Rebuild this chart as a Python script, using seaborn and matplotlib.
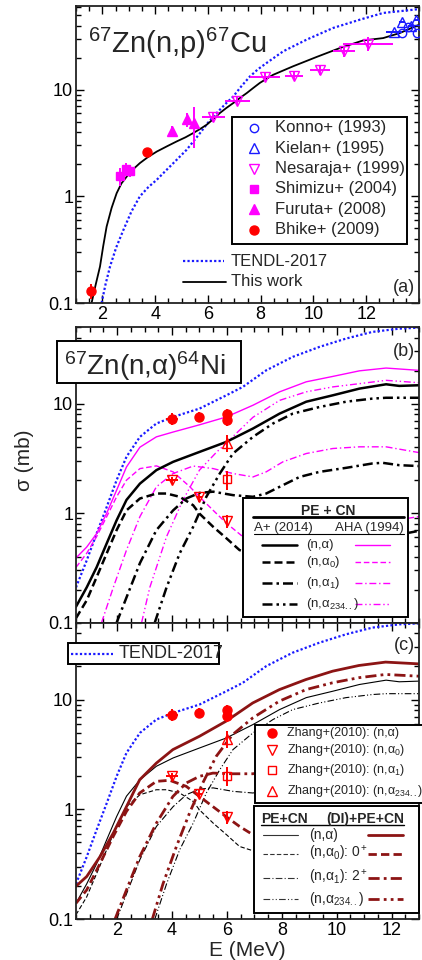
import numpy as np
import pandas as pd
import matplotlib
matplotlib.use('Agg')
import matplotlib.pyplot as plt
import seaborn as sns
from matplotlib.lines import Line2D
from matplotlib.patches import Rectangle
from matplotlib.ticker import MultipleLocator, LogLocator, NullFormatter, FixedLocator, FixedFormatter

sns.set_style('ticks')
plt.rcParams['font.family'] = ['Liberation Sans', 'DejaVu Sans']
plt.rcParams['mathtext.fontset'] = 'custom'
plt.rcParams['mathtext.rm'] = 'Liberation Sans'
plt.rcParams['mathtext.it'] = 'Liberation Sans:italic'
plt.rcParams['mathtext.bf'] = 'Liberation Sans:bold'
plt.rcParams['mathtext.sf'] = 'Liberation Sans'

# ---------------- data: panel (a) 67Zn(n,p)67Cu ----------------
E_a_this = [1.59, 1.75, 1.91, 2.03, 2.16, 2.35, 2.54, 2.72, 2.92, 3.15, 3.42, 3.72, 4.06, 4.45, 4.81, 5.15, 5.44, 5.70, 5.95, 6.20, 6.45, 6.70, 6.96, 7.22, 7.47, 7.72, 7.97, 8.47, 9.23, 10.12, 11.0, 11.88, 12.64, 13.27, 14.0]
s_a_this = [0.1, 0.15, 0.22, 0.34, 0.52, 0.78, 1.07, 1.32, 1.53, 1.78, 2.05, 2.33, 2.63, 2.95, 3.27, 3.58, 3.92, 4.28, 4.69, 5.3, 6.04, 6.75, 7.5, 8.4, 9.3, 10.4, 11.6, 13.8, 16.6, 20.3, 24.6, 29.0, 30.5, 34.0, 40.7]
E_a_tendl = [1.97, 2.12, 2.29, 2.52, 2.79, 3.1, 3.42, 3.74, 4.06, 4.38, 4.69, 5.19, 5.70, 6.0, 6.33, 6.65, 6.96, 7.27, 7.59, 7.9, 8.22, 8.85, 9.74, 10.75, 11.76, 12.64, 14.0]
s_a_tendl = [0.1, 0.15, 0.22, 0.33, 0.48, 0.72, 1.0, 1.22, 1.43, 1.72, 2.05, 2.73, 3.92, 4.9, 6.04, 7.3, 8.65, 10.8, 13.3, 15.6, 17.8, 22.9, 29.5, 38.0, 45.4, 52.5, 57.0]

konno_E = [13.34, 13.6, 13.93]
konno_s = [34.0, 38.5, 34.0]
kielan_E = [13.05, 13.36, 13.68, 13.9]
kielan_s = [34.8, 42.8, 39.3, 44.7]
kielan_xerr = [0.3, 0.1, 0.1, 0.1]
nes_E = [6.2, 7.11, 8.16, 9.26, 10.24, 11.15, 12.07]
nes_s = [5.5, 7.9, 13.2, 13.5, 15.4, 22.9, 27.0]
nes_xerr = [0.43, 0.48, 0.57, 0.33, 0.37, 0.41, 0.95]
nes_yerr = [0.5, 0.7, 1.1, 1.2, 1.6, 2.6, 4.0]
shim_E = [2.67, 2.88, 3.05]
shim_s = [1.55, 1.8, 1.72]
shim_yerr = [0.3, 0.25, 0.2]
fur_E = [4.62, 5.22, 5.47]
fur_s = [4.07, 5.3, 4.86]
fur_yerr = [0.5, 0.8, 2.0]
bhike_E = [1.56, 3.68]
bhike_s = [0.13, 2.6]
bhike_yerr = [0.02, 0.2]

# ---------------- data: panels (b),(c) 67Zn(n,alpha)64Ni ----------------
E_tendl = [0.5, 0.89, 1.25, 1.62, 1.98, 2.34, 2.83, 3.43, 4.04, 5.0, 5.98, 6.58, 7.43, 8.4, 9.37, 10.34, 11.3, 12.28, 13.0]
s_tendl = [0.21, 0.37, 0.65, 1.14, 2.0, 3.27, 4.97, 6.58, 7.55, 9.0, 11.9, 14.2, 20.1, 26.7, 32.9, 39.2, 45.1, 48.3, 49.3]

E_ap = [0.5, 0.89, 1.25, 1.62, 1.98, 2.34, 2.83, 3.43, 4.04, 5.0, 5.98, 6.95, 7.92, 8.89, 9.86, 10.83, 11.8, 12.28, 13.0]
s_ap_tot = [0.14, 0.21, 0.32, 0.53, 0.86, 1.32, 1.86, 2.47, 2.94, 3.62, 4.47, 5.92, 8.1, 10.4, 11.9, 13.7, 15.0, 14.5, 14.7]
E_ap_a0 = [0.5, 0.89, 1.25, 1.62, 1.98, 2.34, 2.83, 3.43, 3.80, 4.28, 4.77, 5.0, 5.5, 5.98, 6.46, 7.5, 9.0, 11.0, 13.0]
s_ap_a0 = [0.11, 0.16, 0.26, 0.43, 0.70, 1.06, 1.36, 1.51, 1.51, 1.41, 1.18, 0.99, 0.75, 0.59, 0.46, 0.38, 0.42, 0.55, 0.69]
E_ap_a1 = [1.98, 2.34, 2.83, 3.43, 4.04, 4.52, 5.0, 5.5, 6.22, 6.95, 7.43, 8.04, 8.65, 9.37, 10.34, 11.3, 11.67, 12.28, 13.0]
s_ap_a1 = [0.1, 0.17, 0.35, 0.70, 1.06, 1.36, 1.53, 1.57, 1.46, 1.41, 1.51, 1.80, 2.14, 2.38, 2.59, 2.84, 2.88, 2.74, 2.69]
E_ap_a234 = [3.37, 3.80, 4.28, 4.77, 5.25, 5.74, 6.22, 6.95, 7.68, 8.4, 9.37, 10.34, 11.3, 11.8, 13.0]
s_ap_a234 = [0.1, 0.21, 0.43, 0.75, 1.41, 2.30, 3.5, 4.97, 6.58, 8.1, 9.3, 10.4, 11.1, 11.3, 11.3]

E_aha = [0.5, 0.89, 1.25, 1.62, 1.98, 2.34, 2.83, 3.43, 4.04, 5.0, 5.98, 6.95, 7.92, 8.89, 9.86, 10.83, 11.8, 13.0]
s_aha_tot = [0.39, 0.49, 0.65, 1.0, 1.62, 2.64, 4.0, 4.97, 5.5, 6.4, 7.55, 9.66, 12.8, 15.8, 17.7, 19.9, 21.1, 20.1]
E_aha_a0 = [0.5, 0.89, 1.25, 1.62, 1.98, 2.34, 2.83, 3.43, 4.04, 4.65, 5.0, 5.5, 5.98, 6.58, 8.0, 10.0, 12.0, 13.0]
s_aha_a0 = [0.32, 0.43, 0.61, 0.93, 1.41, 2.0, 2.55, 2.7, 2.38, 1.74, 1.41, 1.06, 0.81, 0.61, 0.55, 0.70, 0.85, 0.93]
E_aha_a1 = [1.43, 1.86, 2.34, 2.83, 3.43, 4.04, 4.77, 5.5, 6.22, 6.95, 7.43, 8.04, 8.89, 9.86, 10.83, 11.8, 13.0]
s_aha_a1 = [0.1, 0.21, 0.46, 0.93, 1.74, 2.30, 2.69, 2.55, 2.3, 2.14, 2.38, 2.94, 3.5, 3.89, 4.03, 4.03, 3.57]
E_aha_a234 = [2.89, 3.19, 3.80, 4.40, 5.0, 5.62, 6.0, 6.22, 6.95, 7.92, 8.89, 9.86, 10.83, 11.8, 13.0]
s_aha_a234 = [0.1, 0.21, 0.61, 1.32, 2.47, 3.6, 4.4, 5.0, 7.5, 10.7, 12.8, 14.2, 15.2, 16.3, 15.5]

E_di = [0.5, 0.89, 1.37, 1.86, 2.34, 2.82, 3.43, 4.03, 5.0, 5.97, 6.94, 7.91, 8.88, 9.85, 10.81, 11.78, 13.0]
s_di_tot = [0.2, 0.245, 0.37, 0.61, 1.06, 1.86, 2.64, 3.5, 4.63, 6.35, 9.3, 12.3, 15.2, 18.1, 20.4, 21.9, 21.1]
E_di_a0 = [0.5, 0.89, 1.37, 1.86, 2.34, 2.82, 3.43, 3.91, 4.52, 5.0, 5.49, 5.97, 6.46, 6.94, 8.0, 10.0, 12.0, 13.0]
s_di_a0 = [0.14, 0.185, 0.32, 0.57, 0.96, 1.41, 1.80, 1.84, 1.62, 1.31, 1.06, 0.86, 0.70, 0.59, 0.52, 0.62, 0.85, 0.98]
E_di_a1 = [1.92, 2.34, 2.82, 3.43, 4.03, 4.52, 5.0, 5.49, 6.21, 6.94, 8.0, 10.0, 12.0, 13.0]
s_di_a1 = [0.1, 0.185, 0.37, 0.75, 1.31, 1.74, 2.0, 2.14, 2.11, 2.11, 2.3, 2.8, 3.2, 3.1]
E_di_a234 = [3.28, 3.67, 4.16, 4.64, 5.12, 5.61, 6.21, 6.94, 7.91, 8.88, 9.85, 10.81, 11.78, 13.0]
s_di_a234 = [0.1, 0.21, 0.46, 0.93, 1.74, 3.04, 4.8, 6.8, 9.66, 12.3, 14.2, 15.8, 16.9, 16.3]

zh_tot_E = [4.0, 5.0, 6.0, 6.0]
zh_tot_s = [7.3, 7.55, 8.1, 7.1]
zh_tot_xerr = [0.23, 0.15, 0.05, 0.05]
zh_tot_yerr = [0.9, 0.8, 0.9, 0.9]
zh_a0_E = [4.0, 5.0, 6.0]
zh_a0_s = [2.0, 1.39, 0.85]
zh_a0_xerr = [0.23, 0.1, 0.05]
zh_a0_yerr = [0.15, 0.12, 0.12]
zh_a1_E = [6.0]
zh_a1_s = [2.03]
zh_a1_yerr = [0.4]
zh_a234_E = [6.0]
zh_a234_s = [4.4]
zh_a234_yerr = [0.8]

# ---------------- figure ----------------
W, H = 422, 960
fig = plt.figure(figsize=(W / 100, H / 100), dpi=100)

def axes_px(x0, y0, x1, y1):
    return fig.add_axes([x0 / W, 1 - y1 / H, (x1 - x0) / W, (y1 - y0) / H])

axA = axes_px(76, 6, 419, 303)
axB = axes_px(76, 327, 419, 622.7)
axC = axes_px(76, 622.7, 419, 919.3)

BLUE = '#1a1aff'
MAG = '#ff00ff'
RED = '#ff0000'
DRED = '#8c1414'

DOT = (0, (1, 1))
DASH = (0, (3.2, 1.6))
DASHD = (0, (4, 1.6, 1, 1.6))
DASHDD = (0, (4, 1.6, 1, 1.6, 1, 1.6))
MDASH = (0, (4, 2))
MDASHD = (0, (5, 2, 1, 2))
MDASHDD = (0, (5, 2, 1, 2, 1, 2))


def curve(ax, E, s, color, lw, ls='-'):
    sns.lineplot(x=E, y=s, ax=ax, color=color, lw=lw, linestyle=ls,
                 estimator=None, errorbar=None, sort=False, legend=False)


def pts(ax, E, s, marker, color, filled, ms, xerr=None, yerr=None, mew=1.0):
    ax.errorbar(E, s, xerr=xerr, yerr=yerr, fmt='none', ecolor=color, elinewidth=1.4, capsize=0, zorder=4)
    ax.plot(E, s, linestyle='none', marker=marker, ms=ms, mew=mew,
            mfc=color if filled else 'none', mec=color, zorder=5)

# panel (a)
curve(axA, E_a_tendl, s_a_tendl, BLUE, 1.6, DOT)
curve(axA, E_a_this, s_a_this, 'black', 1.3)
pts(axA, nes_E, nes_s, 'v', MAG, False, 7, xerr=nes_xerr, yerr=nes_yerr)
pts(axA, konno_E, konno_s, 'o', BLUE, False, 6)
pts(axA, kielan_E, kielan_s, '^', BLUE, False, 7, xerr=kielan_xerr)
pts(axA, shim_E, shim_s, 's', MAG, True, 5.5, yerr=shim_yerr)
pts(axA, fur_E, fur_s, '^', MAG, True, 6.5, yerr=fur_yerr)
pts(axA, bhike_E, bhike_s, 'o', RED, True, 6.5, yerr=bhike_yerr)

# panel (b)
curve(axB, E_tendl, s_tendl, BLUE, 1.6, DOT)
curve(axB, E_aha, s_aha_tot, MAG, 1.0)
curve(axB, E_aha_a0, s_aha_a0, MAG, 1.0, MDASH)
curve(axB, E_aha_a1, s_aha_a1, MAG, 1.0, MDASHD)
curve(axB, E_aha_a234, s_aha_a234, MAG, 1.0, MDASHDD)
curve(axB, E_ap, s_ap_tot, 'black', 1.8)
curve(axB, E_ap_a0, s_ap_a0, 'black', 1.8, DASH)
curve(axB, E_ap_a1, s_ap_a1, 'black', 1.8, DASHD)
curve(axB, E_ap_a234, s_ap_a234, 'black', 1.8, DASHDD)

# panel (c)
curve(axC, E_tendl, s_tendl, BLUE, 1.6, DOT)
curve(axC, E_ap, s_ap_tot, 'black', 0.8)
curve(axC, E_ap_a0, s_ap_a0, 'black', 0.8, (0, (4, 2)))
curve(axC, E_ap_a1, s_ap_a1, 'black', 0.8, (0, (6, 2, 1, 2)))
curve(axC, E_ap_a234, s_ap_a234, 'black', 0.8, (0, (6, 2, 1, 2, 1, 2)))
curve(axC, E_di, s_di_tot, DRED, 2.0)
curve(axC, E_di_a0, s_di_a0, DRED, 2.0, (0, (3, 1.5)))
curve(axC, E_di_a1, s_di_a1, DRED, 2.0, (0, (4, 1.5, 1, 1.5)))
curve(axC, E_di_a234, s_di_a234, DRED, 2.0, (0, (4, 1.5, 1, 1.5, 1, 1.5)))

for ax in (axB, axC):
    pts(ax, zh_tot_E, zh_tot_s, 'o', RED, True, 6.5, xerr=zh_tot_xerr, yerr=zh_tot_yerr)
    pts(ax, zh_a0_E, zh_a0_s, 'v', RED, False, 7, xerr=zh_a0_xerr, yerr=zh_a0_yerr)
    pts(ax, zh_a1_E, zh_a1_s, 's', RED, False, 6, yerr=zh_a1_yerr)
    pts(ax, zh_a234_E, zh_a234_s, '^', RED, False, 7, yerr=zh_a234_yerr)

# axes styling
for ax, xlo, xhi, ytop, labels in ((axA, 1, 14, 61, True), (axB, 0.5, 13, 50, False), (axC, 0.5, 13, 50, True)):
    ax.set_yscale('log')
    ax.set_xlim(xlo, xhi)
    ax.set_ylim(0.1, ytop)
    ax.xaxis.set_major_locator(FixedLocator([2, 4, 6, 8, 10, 12]))
    ax.xaxis.set_minor_locator(MultipleLocator(0.5))
    ax.yaxis.set_major_locator(FixedLocator([0.1, 1, 10]))
    ax.yaxis.set_major_formatter(FixedFormatter(['0.1', '1', '10']))
    ax.yaxis.set_minor_locator(LogLocator(base=10, subs=np.arange(2, 10), numticks=20))
    ax.yaxis.set_minor_formatter(NullFormatter())
    ax.tick_params(which='both', direction='in', top=True, right=True, width=1.0, labelsize=13, colors='black')
    ax.tick_params(which='major', length=6, pad=2)
    ax.tick_params(which='minor', length=3.5)
    if not labels:
        ax.set_xticklabels([])
    for sp in ax.spines.values():
        sp.set_linewidth(1.3)
        sp.set_color('#222222')
    ax.set_xlabel('')
    ax.set_ylabel('')

# ---------------- annotation helpers in pixel coords ----------------
def fx(x):
    return x / W


def fy(y):
    return 1 - y / H


def box(x0, y0, x1, y1, lw=1.4):
    fig.add_artist(Rectangle((fx(x0), fy(y1)), (x1 - x0) / W, (y1 - y0) / H, transform=fig.transFigure,
                             fc='white', ec='black', lw=lw, zorder=10))


def hline(x0, x1, y, color, lw, ls='-'):
    fig.add_artist(Line2D([fx(x0), fx(x1)], [fy(y), fy(y)], transform=fig.transFigure, color=color,
                          lw=lw, linestyle=ls, zorder=11))


def mark(x, y, marker, color, filled, ms):
    fig.add_artist(Line2D([fx(x)], [fy(y)], transform=fig.transFigure, linestyle='none', marker=marker,
                          ms=ms, mfc=color if filled else 'none', mec=color, mew=1.0, zorder=11))


def txt(x, y, s, size, ha='left', va='center', weight='normal', **kw):
    fig.text(fx(x), fy(y), s, fontsize=size, ha=ha, va=va, fontweight=weight, zorder=12, **kw)

# panel (a) annotations
txt(88, 53, r'$^{67}$Zn(n,p)$^{67}$Cu', 21, va='baseline')
box(232, 117, 407, 244)
leg_a = [('o', BLUE, False, 6, 'Konno+ (1993)'), ('^', BLUE, False, 7, 'Kielan+ (1995)'),
         ('v', MAG, False, 7, 'Nesaraja+ (1999)'), ('s', MAG, True, 5.5, 'Shimizu+ (2004)'),
         ('^', MAG, True, 6.5, 'Furuta+ (2008)'), ('o', RED, True, 6.5, 'Bhike+ (2009)')]
for i, (m, c, f, ms, lab) in enumerate(leg_a):
    y = 127.7 + i * 20.4
    mark(254, y, m, c, f, ms)
    txt(275, y, lab, 12)
hline(183, 224, 261, BLUE, 1.6, DOT)
txt(231, 261, 'TENDL-2017', 12)
hline(183, 226, 282, 'black', 1.3)
txt(231, 282, 'This work', 12)
txt(404, 287, '(a)', 13, ha='center')

# panel (b) annotations
box(57, 341, 241, 383)
txt(64, 375, r'$^{67}$Zn(n,α)$^{64}$Ni', 20, va='baseline')
txt(404, 352, '(b)', 13, ha='center')
box(243, 498, 408, 617)
txt(328, 511, 'PE + CN', 10, ha='center', weight='bold')
hline(253, 404, 517, 'black', 2.0)
txt(254, 528, 'A+ (2014)', 9.5)
txt(404, 528, 'AHA (1994)', 9.5, ha='right')
hline(254, 404, 534, 'black', 0.8)
rows_b = [('-', MDASH, '(n,α)'), (DASH, MDASH, r'(n,α$_0$)'),
          (DASHD, MDASHD, r'(n,α$_1$)'), (DASHDD, MDASHDD, r'(n,α$_{234..}$)')]
for i, (lsk, lsm, lab) in enumerate(rows_b):
    y = [545, 562, 583, 603.5][i]
    hline(262, 297, y, 'black', 1.8, lsk)
    hline(355, 390, y, MAG, 1.0, '-' if i == 0 else lsm)
    txt(306, y, lab, 9.5)

# panel (c) annotations
box(68, 643, 219, 664)
hline(71, 113, 654, BLUE, 1.6, DOT)
txt(119, 654, 'TENDL-2017', 13)
txt(404, 645, '(c)', 13, ha='center')
box(255, 725, 423, 803)
leg_c = [('o', True, 6.5, 'Zhang+(2010): (n,α)'), ('v', False, 7, r'Zhang+(2010): (n,α$_0$)'),
         ('s', False, 6, r'Zhang+(2010): (n,α$_1$)'), ('^', False, 7, r'Zhang+(2010): (n,α$_{234..}$)')]
for i, (m, f, ms, lab) in enumerate(leg_c):
    y = [733, 750, 770, 791][i]
    mark(272, y, m, RED, f, ms)
    txt(287, y, lab, 9.0)
box(254, 806, 419, 913)
txt(261, 819, 'PE+CN', 10, weight='bold')
txt(404, 819, '(DI)+PE+CN', 10, ha='right', weight='bold')
hline(261, 404, 825, 'black', 1.0)
rows_c = [('-', '-', '(n,α)'), ((0, (4, 2)), (0, (3, 1.5)), r'(n,α$_0$): 0$^+$'),
          ((0, (6, 2, 1, 2)), (0, (4, 1.5, 1, 1.5)), r'(n,α$_1$): 2$^+$'),
          ((0, (6, 2, 1, 2, 1, 2)), (0, (4, 1.5, 1, 1.5, 1, 1.5)), r'(n,α$_{234..}$)')]
for i, (lsk, lsr, lab) in enumerate(rows_c):
    y = [835, 854, 878, 899][i]
    hline(263, 298, y, '#333333', 0.8, lsk)
    hline(368, 403, y, DRED, 2.0, lsr)
    txt(309, y, lab, 10)

# axis labels
txt(25, 460, 'σ (mb)', 15, ha='center', rotation=90)
txt(247, 951, 'E (MeV)', 15, ha='center')

fig.savefig('out.png', dpi=100)
